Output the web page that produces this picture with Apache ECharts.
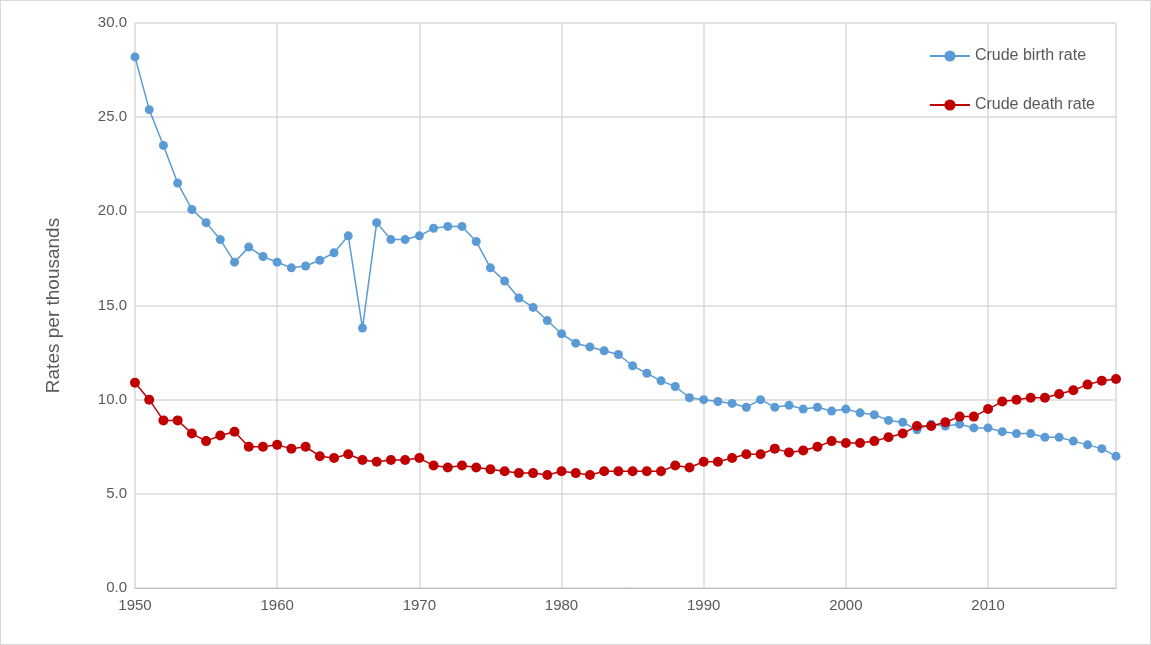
<!DOCTYPE html>
<html>
<head>
<meta charset="utf-8">
<script src="https://cdn.jsdelivr.net/npm/echarts@6/dist/echarts.min.js"></script>
<style>
html, body { margin: 0; padding: 0; background: #fff; }
#chart { width: 1149px; height: 643px; border: 1px solid #d9d9d9; }
</style>
</head>
<body>
<div id="chart"></div>
<script>
var years = [];
for (var y = 1950; y <= 2019; y++) years.push(y);

var birthRate = [28.2, 25.4, 23.5, 21.5, 20.1, 19.4, 18.5, 17.3, 18.1, 17.6,
    17.3, 17.0, 17.1, 17.4, 17.8, 18.7, 13.8, 19.4, 18.5, 18.5,
    18.7, 19.1, 19.2, 19.2, 18.4, 17.0, 16.3, 15.4, 14.9, 14.2,
    13.5, 13.0, 12.8, 12.6, 12.4, 11.8, 11.4, 11.0, 10.7, 10.1,
    10.0, 9.9, 9.8, 9.6, 10.0, 9.6, 9.7, 9.5, 9.6, 9.4,
    9.5, 9.3, 9.2, 8.9, 8.8, 8.4, 8.7, 8.6, 8.7, 8.5,
    8.5, 8.3, 8.2, 8.2, 8.0, 8.0, 7.8, 7.6, 7.4, 7.0];

var deathRate = [10.9, 10.0, 8.9, 8.9, 8.2, 7.8, 8.1, 8.3, 7.5, 7.5,
    7.6, 7.4, 7.5, 7.0, 6.9, 7.1, 6.8, 6.7, 6.8, 6.8,
    6.9, 6.5, 6.4, 6.5, 6.4, 6.3, 6.2, 6.1, 6.1, 6.0,
    6.2, 6.1, 6.0, 6.2, 6.2, 6.2, 6.2, 6.2, 6.5, 6.4,
    6.7, 6.7, 6.9, 7.1, 7.1, 7.4, 7.2, 7.3, 7.5, 7.8,
    7.7, 7.7, 7.8, 8.0, 8.2, 8.6, 8.6, 8.8, 9.1, 9.1,
    9.5, 9.9, 10.0, 10.1, 10.1, 10.3, 10.5, 10.8, 11.0, 11.1];

function pairs(vals) {
    return years.map(function (yr, i) { return [yr, vals[i]]; });
}

var myChart = echarts.init(document.getElementById('chart'));
var textColor = '#595959';
var option = {
    animation: false,
    textStyle: { fontFamily: 'Liberation Sans, Arial, sans-serif' },
    grid: { left: 134, right: 34, top: 22, bottom: 56 },
    legend: {
        orient: 'vertical',
        right: 50,
        top: 42,
        itemGap: 33,
        itemWidth: 40,
        textStyle: { color: textColor, fontSize: 16 },
        data: ['Crude birth rate', 'Crude death rate']
    },
    xAxis: {
        type: 'value',
        min: 1950,
        max: 2019,
        interval: 10,
        axisLine: { lineStyle: { color: '#bfbfbf' } },
        axisTick: { show: false },
        axisLabel: { color: textColor, fontSize: 15, margin: 10, showMaxLabel: false,
            formatter: function (v) { return String(v); } },
        splitLine: { lineStyle: { color: '#d9d9d9', width: 1.5 } }
    },
    yAxis: {
        type: 'value',
        min: 0,
        max: 30,
        interval: 5,
        name: 'Rates per thousands',
        nameLocation: 'middle',
        nameGap: 72,
        nameTextStyle: { color: textColor, fontSize: 19 },
        axisLine: { show: false },
        axisTick: { show: false },
        axisLabel: { color: textColor, fontSize: 15, formatter: function (v) { return v.toFixed(1); } },
        splitLine: { lineStyle: { color: '#d9d9d9', width: 1.5 } }
    },
    series: [
        {
            name: 'Crude birth rate',
            type: 'line',
            data: pairs(birthRate),
            symbol: 'circle',
            symbolSize: 9,
            color: '#5b9bd5',
            lineStyle: { width: 1.5, color: '#5b9bd5' }
        },
        {
            name: 'Crude death rate',
            type: 'line',
            data: pairs(deathRate),
            symbol: 'circle',
            symbolSize: 10,
            color: '#c00000',
            lineStyle: { width: 1.5, color: '#c00000' }
        }
    ]
};
myChart.setOption(option);
</script>
</body>
</html>
